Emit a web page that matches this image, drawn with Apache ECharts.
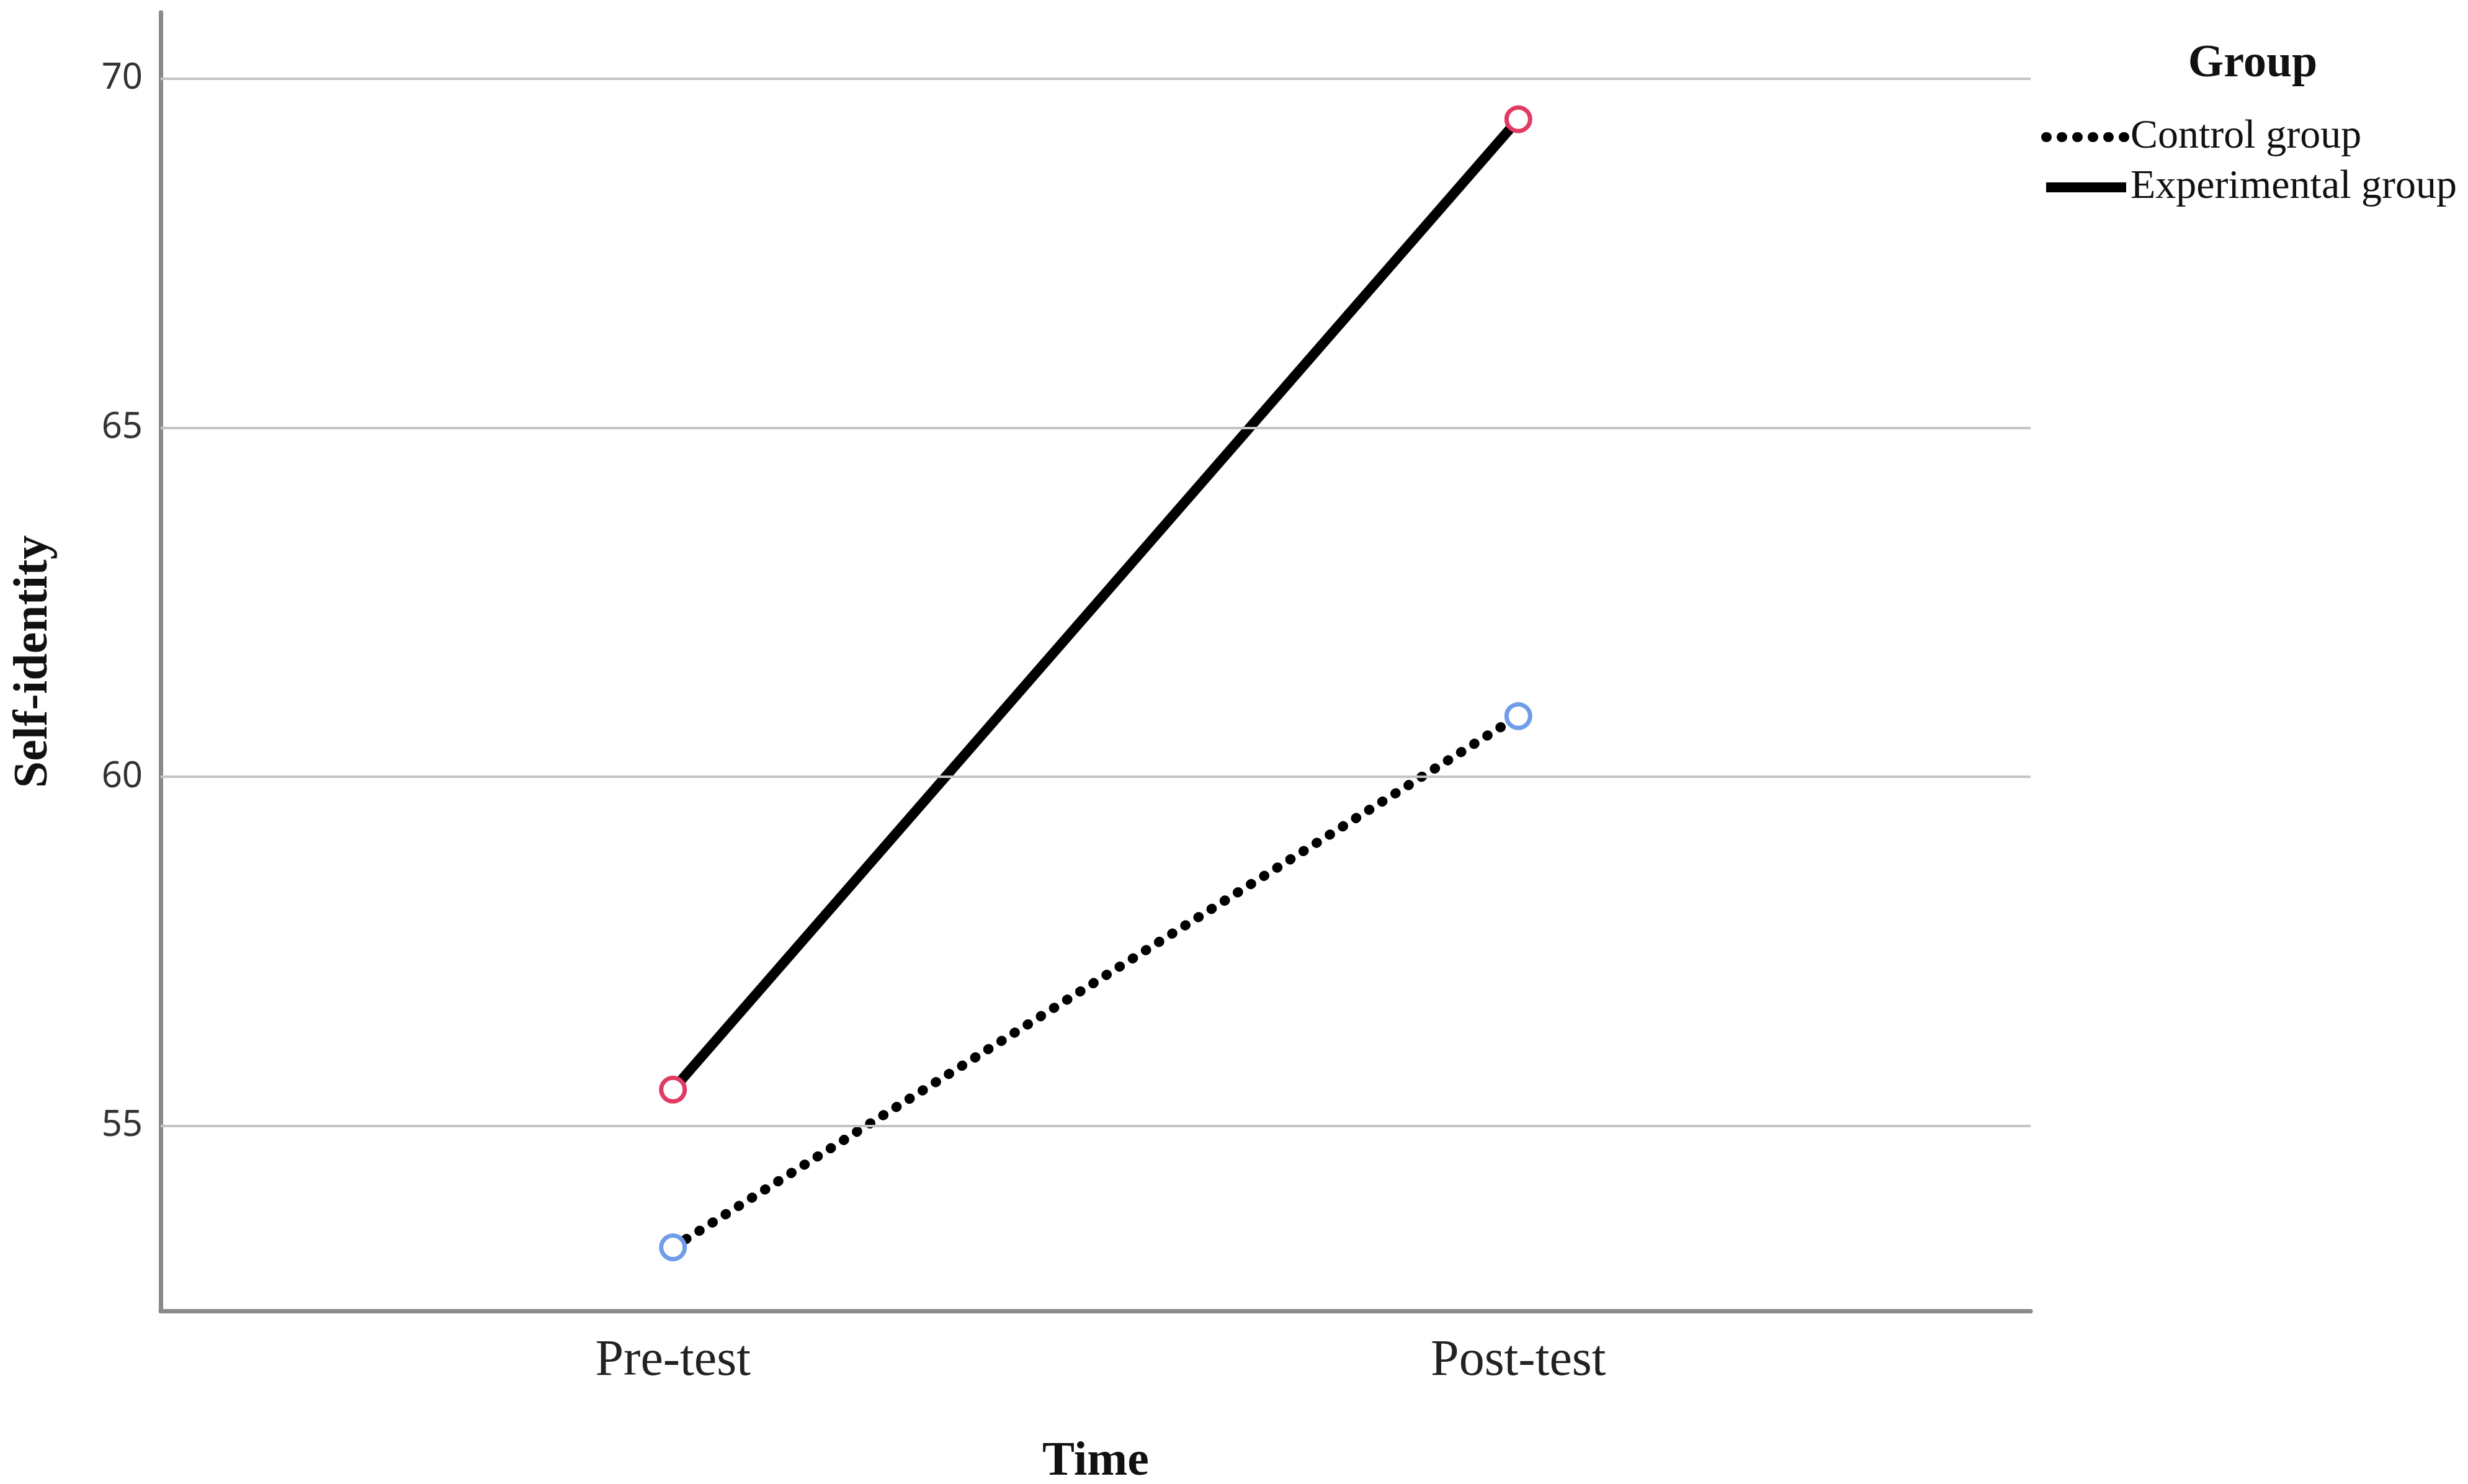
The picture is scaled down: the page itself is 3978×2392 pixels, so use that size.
<!DOCTYPE html>
<html>
<head>
<meta charset="utf-8">
<script src="https://cdn.jsdelivr.net/npm/echarts@6/dist/echarts.min.js"></script>
<style>
  html, body { margin: 0; padding: 0; background: #fff; }
  #chart { width: 3978px; height: 2392px; }
</style>
</head>
<body>
<div id="chart"></div>
<script>
const times = ['Pre-test', 'Post-test'];
const controlGroup = [53.26, 60.87];
const experimentalGroup = [55.52, 69.42];
const yTicks = [55, 60, 65, 70];

const serif = '"Liberation Serif", "Times New Roman", serif';
const sans = '"Noto Sans", "DejaVu Sans", sans-serif';

const dotted = { color: '#000', width: 16, type: [1, 24], cap: 'round' };
const solid = { color: '#000', width: 16, type: 'solid' };

// x is a value axis so the two time points sit where SPSS puts them
const toPoints = (vals) => vals.map((v, i) => [i, v]);

const chart = echarts.init(document.getElementById('chart'), null, { renderer: 'canvas' });

chart.setOption({
    animation: false,
    backgroundColor: '#ffffff',
    title: {
        text: 'Group',
        left: 3626,
        top: 62,
        textAlign: 'center',
        textStyle: { fontFamily: serif, fontWeight: 'bold', fontSize: 74, color: '#111' },
    },
    legend: {
        orient: 'vertical',
        left: 3285,
        top: 181,
        itemWidth: 129,
        itemHeight: 20,
        itemGap: 11,
        data: [
            { name: 'Control group', lineStyle: dotted, itemStyle: { opacity: 0 } },
            { name: 'Experimental group', lineStyle: solid, itemStyle: { opacity: 0 } },
        ],
        itemStyle: { opacity: 0 },
        textStyle: {
            fontFamily: serif, fontSize: 66, color: '#111',
            lineHeight: 70, padding: [0, 0, 0, 2],
        },
    },
    grid: { left: 259, right: 705, top: 20, bottom: 279, outerBoundsMode: 'none' },
    xAxis: {
        type: 'value',
        min: -0.606,
        max: 1.606,
        name: 'Time',
        nameLocation: 'middle',
        nameGap: 205,
        nameTextStyle: { fontFamily: serif, fontWeight: 'bold', fontSize: 78, color: '#111' },
        axisLine: { onZero: false, lineStyle: { color: '#8a8a8a', width: 7, cap: 'round' } },
        axisTick: { show: false },
        splitLine: { show: false },
        axisLabel: {
            customValues: [0, 1],
            formatter: (v) => times[Math.round(v)] ?? '',
            margin: 40,
            fontFamily: serif, fontSize: 82, color: '#222',
        },
    },
    yAxis: {
        type: 'value',
        min: 52.35,
        max: 70.95,
        name: 'Self-identity',
        nameLocation: 'middle',
        nameRotate: 90,
        nameGap: 165,
        nameTextStyle: { fontFamily: serif, fontWeight: 'bold', fontSize: 78, color: '#111' },
        axisLine: { show: true, onZero: false, lineStyle: { color: '#8a8a8a', width: 7, cap: 'round' } },
        axisTick: { show: false },
        splitLine: { show: false },
        axisLabel: {
            customValues: yTicks,
            margin: 29,
            fontFamily: sans, fontSize: 58, color: '#333',
        },
    },
    series: [
        {
            name: 'gridlines',
            type: 'line',
            data: [],
            z: 1,
            silent: true,
            markLine: {
                silent: true,
                symbol: 'none',
                label: { show: false },
                lineStyle: { color: '#c4c4c4', width: 4, type: 'solid' },
                data: yTicks.map((v) => ({ yAxis: v })),
            },
        },
        {
            name: 'Control group',
            type: 'line',
            z: 3,
            data: toPoints(controlGroup),
            symbol: 'circle',
            symbolSize: 38,
            itemStyle: { color: '#ffffff', borderColor: '#6f9de9', borderWidth: 7 },
            lineStyle: dotted,
        },
        {
            name: 'Experimental group',
            type: 'line',
            z: 3,
            data: toPoints(experimentalGroup),
            symbol: 'circle',
            symbolSize: 38,
            itemStyle: { color: '#ffffff', borderColor: '#e23a62', borderWidth: 7 },
            lineStyle: solid,
        },
    ],
});
</script>
</body>
</html>
